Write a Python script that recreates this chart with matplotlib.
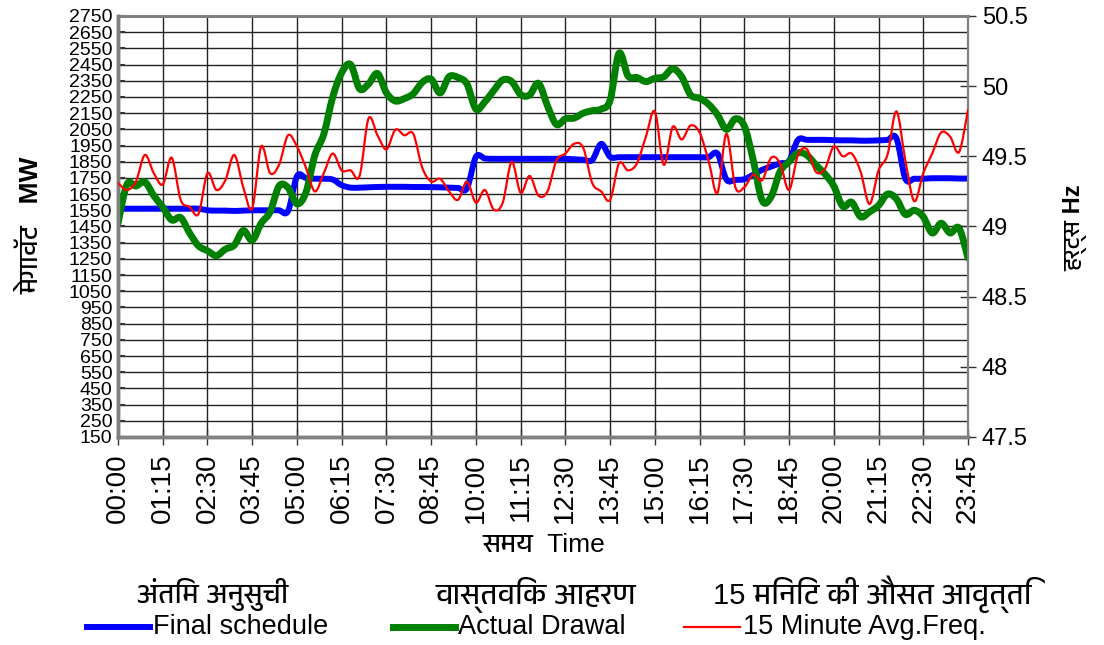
import numpy as np
import matplotlib
matplotlib.use('Agg')
import matplotlib.pyplot as plt
from matplotlib import font_manager
from matplotlib.ft2font import FT2Font
from matplotlib.lines import Line2D
from matplotlib.path import Path
from matplotlib.patches import PathPatch
from matplotlib.ticker import FuncFormatter

# 15-minute blocks for one day
time_labels = ['00:00', '01:15', '02:30', '03:45', '05:00', '06:15', '07:30', '08:45',
               '10:00', '11:15', '12:30', '13:45', '15:00', '16:15', '17:30', '18:45',
               '20:00', '21:15', '22:30', '23:45']

final_schedule = [1560, 1560, 1560, 1560, 1560, 1560, 1560, 1560, 1560, 1560,
                  1550, 1548, 1548, 1546, 1548, 1550, 1550, 1550, 1550, 1545,
                  1760, 1750, 1745, 1745, 1740, 1705, 1690, 1690, 1692, 1694,
                  1695, 1695, 1695, 1694, 1694, 1693, 1692, 1690, 1688, 1685,
                  1880, 1870, 1868, 1868, 1868, 1868, 1868, 1868, 1868, 1868,
                  1868, 1865, 1862, 1860, 1960, 1880, 1878, 1878, 1878, 1878,
                  1878, 1878, 1878, 1878, 1878, 1878, 1878, 1900, 1740, 1738,
                  1742, 1770, 1800, 1820, 1840, 1855, 1985, 1985, 1985, 1985,
                  1983, 1982, 1982, 1980, 1980, 1982, 1985, 1995, 1745, 1745,
                  1745, 1748, 1748, 1748, 1746, 1746]

actual_drawal = [1470, 1710, 1700, 1725, 1640, 1570, 1490, 1505, 1410, 1330,
                 1300, 1270, 1310, 1335, 1425, 1365, 1470, 1540, 1700, 1690,
                 1590, 1660, 1890, 2020, 2250, 2400, 2450, 2300, 2330, 2395,
                 2275, 2225, 2240, 2270, 2340, 2360, 2275, 2375, 2370, 2330,
                 2175, 2220, 2290, 2355, 2345, 2265, 2262, 2334, 2195, 2080,
                 2115, 2120, 2150, 2165, 2175, 2230, 2520, 2380, 2370, 2345,
                 2365, 2375, 2425, 2375, 2262, 2242, 2205, 2140, 2050, 2115,
                 2070, 1860, 1610, 1634, 1790, 1850, 1905, 1890, 1830, 1775,
                 1700, 1575, 1600, 1510, 1540, 1580, 1650, 1620, 1525, 1550,
                 1510, 1410, 1470, 1410, 1440, 1255]

avg_freq = [49.31, 49.26, 49.32, 49.51, 49.38, 49.30, 49.49, 49.19, 49.14, 49.09,
            49.38, 49.26, 49.33, 49.51, 49.28, 49.13, 49.57, 49.38, 49.44, 49.65,
            49.57, 49.42, 49.25, 49.38, 49.52, 49.40, 49.40, 49.36, 49.77, 49.65,
            49.55, 49.69, 49.65, 49.66, 49.42, 49.32, 49.34, 49.25, 49.19, 49.32,
            49.17, 49.26, 49.12, 49.17, 49.46, 49.24, 49.36, 49.22, 49.25, 49.47,
            49.52, 49.59, 49.56, 49.31, 49.25, 49.19, 49.45, 49.40, 49.45, 49.64,
            49.82, 49.44, 49.71, 49.62, 49.72, 49.67, 49.47, 49.24, 49.66, 49.28,
            49.28, 49.37, 49.33, 49.49, 49.45, 49.26, 49.51, 49.55, 49.39, 49.41,
            49.57, 49.50, 49.52, 49.39, 49.16, 49.40, 49.51, 49.82, 49.47, 49.18,
            49.38, 49.52, 49.67, 49.64, 49.53, 49.83]


# look for installed fonts that have Devanagari glyphs, prefer non-mono ones
def find_devanagari():
    found = []
    seen = set()
    for f in font_manager.fontManager.ttflist:
        if f.fname in seen:
            continue
        seen.add(f.fname)
        try:
            if 0x0915 in FT2Font(f.fname).get_charmap():
                found.append(f.name)
        except Exception:
            pass
    if not found:
        return None
    def rank(n):
        n2 = n.lower()
        if 'devanagari' in n2:
            return 0
        if 'mono' in n2 or 'unifont' in n2:
            return 2
        return 1
    return sorted(found, key=rank)[0]


# smoothed line like a spreadsheet "smoothed line" (bezier through the points)
def smooth_line(a, xs, ys, color, lw, zorder=3):
    xs = np.asarray(xs, float)
    ys = np.asarray(ys, float)
    verts = [(xs[0], ys[0])]
    codes = [Path.MOVETO]
    n = len(xs)
    for i in range(n - 1):
        p0 = max(i - 1, 0)
        p3 = min(i + 2, n - 1)
        c1 = (xs[i] + (xs[i + 1] - xs[p0]) / 6, ys[i] + (ys[i + 1] - ys[p0]) / 6)
        c2 = (xs[i + 1] - (xs[p3] - xs[i]) / 6, ys[i + 1] - (ys[p3] - ys[i]) / 6)
        verts += [c1, c2, (xs[i + 1], ys[i + 1])]
        codes += [Path.CURVE4] * 3
    patch = PathPatch(Path(verts, codes), fill=False, edgecolor=color, lw=lw,
                      joinstyle='round', capstyle='round', zorder=zorder)
    a.add_patch(patch)


deva = find_devanagari()
latin = ['Liberation Sans', 'DejaVu Sans']
mixed = ['Liberation Sans'] + ([deva] if deva else []) + ['DejaVu Sans']
plt.rcParams['font.family'] = latin

x = np.arange(len(final_schedule))

fig = plt.figure(figsize=(11.04, 6.45), dpi=100)
ax = fig.add_axes([0.1069, 0.3225, 0.7699, 0.6527])
ax2 = ax.twinx()

smooth_line(ax, x, final_schedule, '#0000FF', 4.3)
smooth_line(ax, x, actual_drawal, '#008000', 5.0)
smooth_line(ax2, x, avg_freq, '#FF0000', 1.6)

ax.set_xlim(0, 95)
ax.set_ylim(150, 2750)
ax.set_yticks(np.arange(150, 2751, 100))
ax.set_xticks(np.arange(0, 96, 5))
ax.set_xticklabels(time_labels, rotation=90, fontsize=20)
ax.tick_params(axis='y', direction='in', length=5, width=1.5, labelsize=14, pad=4, color='#333333')
ax.tick_params(axis='x', direction='inout', length=12, width=1, pad=6, color='#333333')
ax.grid(True, color='#222222', lw=1)
ax.set_axisbelow(True)

ax2.set_xlim(0, 95)
ax2.set_ylim(47.5, 50.5)
ax2.set_yticks(np.arange(47.5, 50.51, 0.5))
ax2.yaxis.set_major_formatter(FuncFormatter(lambda v, p: '%g' % v))
ax2.tick_params(axis='y', direction='inout', length=12, width=1, labelsize=17, pad=4, color='#333333')

for a in (ax, ax2):
    for s in a.spines.values():
        s.set_color('#808080')
    a.spines['left'].set_linewidth(2.5)
    a.spines['bottom'].set_linewidth(2.5)
    a.spines['top'].set_linewidth(2.0)
    a.spines['right'].set_linewidth(1.5)

# axis titles
fig.text(0.029, 0.651, 'मेगावॅट   MW', rotation=90, ha='center', va='center',
         fontsize=19, fontweight='bold', family=mixed)
fig.text(0.974, 0.647, 'हर्ट्स Hz', rotation=90, ha='center', va='center',
         fontsize=17, fontweight='bold', family=mixed)
fig.text(0.493, 0.155, 'समय  Time', ha='center', va='center', fontsize=19, family=mixed)

# legend, Hindi line on top and English with line keys below
fig.text(0.193, 0.078, 'अंतिम अनुसुची', ha='center', va='center', fontsize=20, family=mixed)
fig.text(0.485, 0.078, 'वास्तविक आहरण', ha='center', va='center', fontsize=21, family=mixed)
fig.text(0.790, 0.078, '15 मिनिट की औसत आवृत्ति', ha='center', va='center', fontsize=21,
         family=mixed)

keys = [(0.079, 0.136, '#0000FF', 4.3, 'Final schedule'),
        (0.356, 0.412, '#008000', 5.0, 'Actual Drawal'),
        (0.620, 0.670, '#FF0000', 1.6, '15 Minute Avg.Freq.')]
for x0, x1, c, w, lab in keys:
    fig.add_artist(Line2D([x0, x1], [0.028, 0.028], color=c, lw=w, transform=fig.transFigure))
    fig.text(x1 + 0.003, 0.028, lab, ha='left', va='center', fontsize=19.5)

fig.savefig('out.png', dpi=100)
